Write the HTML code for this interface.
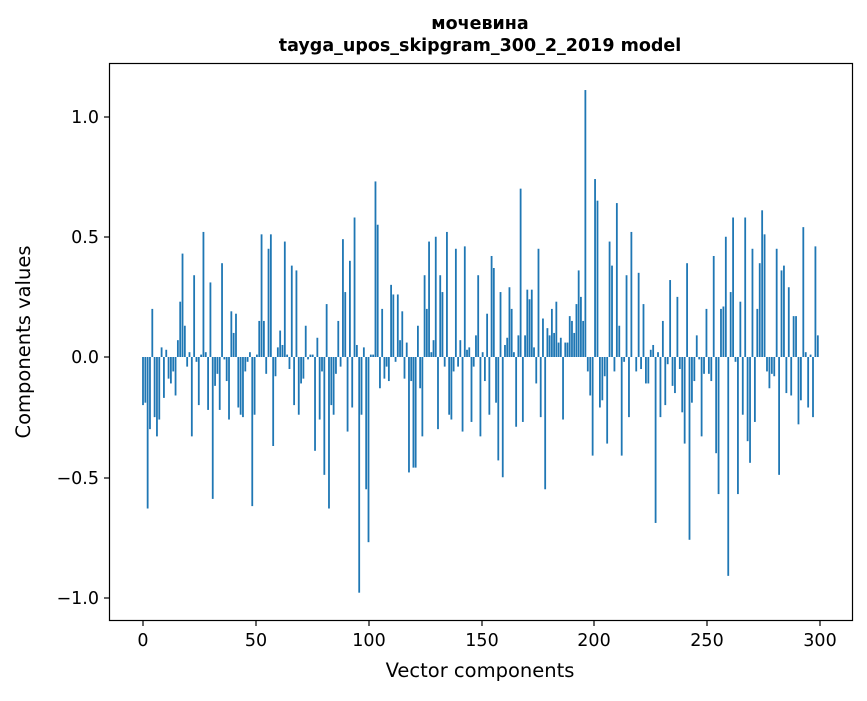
<!DOCTYPE html>
<html><head><meta charset="utf-8"><style>
body{margin:0;background:#fff;}
svg text{font-family:"DejaVu Sans","Liberation Sans",sans-serif;}
</style></head><body>
<svg id="s" width="867" height="696" xmlns="http://www.w3.org/2000/svg">
<rect width="867" height="696" fill="#fff"/>
<g id="bars" fill="#1f77b4"></g>
<rect x="109.5" y="63.5" width="743" height="557" fill="none" stroke="#000" stroke-width="1.2"/>
<g stroke="#000" stroke-width="1.2">
<line x1="143" y1="621" x2="143" y2="626"/><line x1="256" y1="621" x2="256" y2="626"/><line x1="369" y1="621" x2="369" y2="626"/><line x1="482" y1="621" x2="482" y2="626"/><line x1="594" y1="621" x2="594" y2="626"/><line x1="707" y1="621" x2="707" y2="626"/><line x1="820" y1="621" x2="820" y2="626"/>
<line x1="104" y1="117" x2="109" y2="117"/><line x1="104" y1="237" x2="109" y2="237"/><line x1="104" y1="357" x2="109" y2="357"/><line x1="104" y1="478" x2="109" y2="478"/><line x1="104" y1="598" x2="109" y2="598"/>
</g>
<g font-size="17.5" text-anchor="middle" fill="#000">
<text x="143" y="646">0</text><text x="256" y="646">50</text><text x="369" y="646">100</text><text x="482" y="646">150</text><text x="594" y="646">200</text><text x="707" y="646">250</text><text x="820" y="646">300</text>
</g>
<g font-size="17.5" text-anchor="end" fill="#000">
<text x="99" y="123">1.0</text><text x="99" y="243">0.5</text><text x="99" y="363">0.0</text><text x="99" y="484">−0.5</text><text x="99" y="604">−1.0</text>
</g>
<text x="480" y="677" font-size="19.5" text-anchor="middle">Vector components</text>
<text transform="translate(30,342) rotate(-90)" font-size="19.5" text-anchor="middle">Components values</text>
<text x="480" y="29" font-size="17.5" font-weight="bold" text-anchor="middle">мочевина</text>
<text x="480" y="51" font-size="17.5" font-weight="bold" text-anchor="middle">tayga_upos_skipgram_300_2_2019 model</text>
</svg>
<script>
var v=[-0.2,-0.19,-0.63,-0.3,0.2,-0.25,-0.33,-0.26,0.04,-0.17,0.03,-0.09,-0.11,-0.06,-0.16,0.07,0.23,0.43,0.13,-0.04,0.02,-0.33,0.34,-0.02,-0.2,0.01,0.52,0.02,-0.22,0.31,-0.59,-0.12,-0.07,-0.22,0.39,-0.01,-0.1,-0.26,0.19,0.1,0.18,-0.21,-0.24,-0.25,-0.06,-0.02,0.02,-0.62,-0.24,0.01,0.15,0.51,0.15,-0.07,0.45,0.51,-0.37,-0.08,0.04,0.11,0.05,0.48,0.01,-0.05,0.38,-0.2,0.36,-0.24,-0.11,-0.09,0.13,-0.01,0.01,0.01,-0.39,0.08,-0.26,-0.06,-0.49,0.22,-0.63,-0.2,-0.24,-0.07,0.15,-0.04,0.49,0.27,-0.31,0.4,-0.21,0.58,0.05,-0.98,-0.24,0.04,-0.55,-0.77,0.01,0.01,0.73,0.55,-0.13,0.2,-0.09,-0.04,-0.1,0.3,0.26,-0.02,0.26,0.07,0.19,-0.09,0.06,-0.48,-0.1,-0.46,-0.46,0.13,-0.13,-0.33,0.34,0.2,0.48,0.02,0.07,0.5,-0.3,0.34,0.27,-0.04,0.52,-0.24,-0.26,-0.06,0.45,-0.04,0.07,-0.31,0.46,0.03,0.04,-0.27,-0.04,0.09,0.34,-0.33,0.02,-0.1,0.18,-0.24,0.42,0.37,-0.19,-0.43,0.27,-0.5,0.05,0.08,0.29,0.2,0.02,-0.29,0.09,0.7,-0.27,0.09,0.28,0.24,0.28,0.04,-0.11,0.45,-0.25,0.16,-0.55,0.12,0.09,0.2,0.1,0.23,0.06,0.08,-0.26,0.06,0.06,0.17,0.15,0.1,0.22,0.36,0.25,0.15,1.11,-0.06,-0.16,-0.41,0.74,0.65,-0.21,-0.18,-0.08,-0.36,0.48,0.38,-0.06,0.64,0.13,-0.41,-0.02,0.34,-0.25,0.52,0.0,-0.06,0.35,-0.05,0.22,-0.11,-0.11,0.03,0.05,-0.69,0.02,-0.25,0.15,-0.2,-0.03,0.32,-0.12,-0.15,0.25,-0.05,-0.23,-0.36,0.39,-0.76,-0.19,-0.1,0.09,-0.01,-0.33,-0.07,0.2,-0.07,-0.1,0.42,-0.4,-0.57,0.2,0.21,0.5,-0.91,0.27,0.58,-0.02,-0.57,0.23,-0.24,0.58,-0.35,-0.44,0.45,-0.27,0.2,0.39,0.61,0.51,-0.06,-0.13,-0.07,-0.08,0.45,-0.49,0.36,0.38,-0.15,0.29,-0.16,0.17,0.17,-0.28,-0.18,0.54,0.02,-0.21,0.01,-0.25,0.46,0.09];
var n=v.length,g=document.getElementById('bars'),h='';
for(var k=0;k<n;k++){var i;
if(k<=100)i=k*103/100;else if(k<=194)i=103+(k-100)*93/94;else i=196+(k-194)*103/(n-1-194);
var x=143+2.257*i-0.9;var y0=357,y=357-240.5*v[k];
h+='<rect x="'+x.toFixed(2)+'" y="'+Math.min(y,y0).toFixed(2)+'" width="1.8" height="'+Math.abs(y-y0).toFixed(2)+'"/>';}
g.innerHTML=h;
</script>
</body></html>
